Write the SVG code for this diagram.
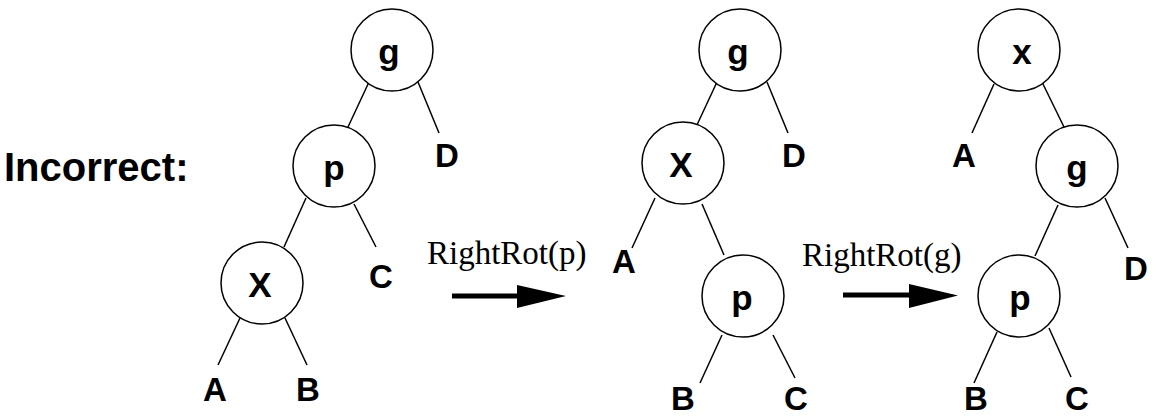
<svg xmlns="http://www.w3.org/2000/svg" width="1163" height="417" viewBox="0 0 1163 417">
<style>
.n{fill:#fff;stroke:#000;stroke-width:1.5}
.e{stroke:#000;stroke-width:1.5;fill:none}
.nl{font-family:"Liberation Sans",Arial,sans-serif;font-weight:bold;font-size:35px;text-anchor:middle;fill:#000}
.lf{font-family:"Liberation Sans",Arial,sans-serif;font-weight:bold;font-size:33px;text-anchor:middle;fill:#000}
.op{font-family:"Liberation Serif","Times New Roman",serif;font-size:33px;fill:#000}
</style>
<rect width="1163" height="417" fill="#fff"/>
<text id="title" x="4" y="181" font-family="Liberation Sans, Arial, sans-serif" font-weight="bold" font-size="40">Incorrect:</text>
<g id="connectors">
<line class="e" x1="369" y1="82" x2="348" y2="127"/>
<line class="e" x1="418" y1="82" x2="439" y2="133"/>
<line class="e" x1="306" y1="198" x2="284" y2="247"/>
<line class="e" x1="354" y1="204" x2="376" y2="247"/>
<line class="e" x1="240" y1="318" x2="218" y2="365"/>
<line class="e" x1="285" y1="318" x2="307" y2="365"/>
<line class="e" x1="717" y1="82" x2="696" y2="127"/>
<line class="e" x1="767" y1="82" x2="788" y2="133"/>
<line class="e" x1="655" y1="198" x2="632" y2="248"/>
<line class="e" x1="702" y1="204" x2="724" y2="255"/>
<line class="e" x1="722" y1="335" x2="700" y2="383"/>
<line class="e" x1="773" y1="335" x2="795" y2="378"/>
<line class="e" x1="994" y1="84" x2="972" y2="133"/>
<line class="e" x1="1042" y1="82" x2="1064" y2="127"/>
<line class="e" x1="1058" y1="205" x2="1035" y2="256"/>
<line class="e" x1="1105" y1="198" x2="1128" y2="248"/>
<line class="e" x1="997" y1="332" x2="974" y2="383"/>
<line class="e" x1="1049" y1="328" x2="1071" y2="377"/>
</g>
<g id="arrow1">
<rect x="452" y="293.5" width="66" height="5" fill="#000"/>
<polygon points="517,285 566,296 517,308" fill="#000"/>
<text class="op" x="427" y="264">RightRot(p)</text>
</g>
<g id="arrow2">
<rect x="843" y="292.5" width="67" height="5" fill="#000"/>
<polygon points="909,284 958,295.5 909,308" fill="#000"/>
<text class="op" x="802" y="266">RightRot(g)</text>
</g>
<g id="t1-g"><circle class="n" cx="392" cy="50" r="41"/><text class="nl" x="389" y="64">g</text></g>
<g id="t1-p"><circle class="n" cx="334" cy="166" r="41"/><text class="nl" x="334" y="180">p</text></g>
<g id="t1-x"><circle class="n" cx="262" cy="283" r="41"/><text class="nl" x="260" y="297">X</text></g>
<g id="t1-D"><text class="lf" x="447" y="167">D</text></g>
<g id="t1-C"><text class="lf" x="381" y="288">C</text></g>
<g id="t1-A"><text class="lf" x="215" y="401">A</text></g>
<g id="t1-B"><text class="lf" x="308" y="401">B</text></g>
<g id="t2-g"><circle class="n" cx="740" cy="50" r="41"/><text class="nl" x="738" y="64">g</text></g>
<g id="t2-x"><circle class="n" cx="683" cy="163" r="41"/><text class="nl" x="681" y="177">X</text></g>
<g id="t2-p"><circle class="n" cx="743" cy="296" r="41"/><text class="nl" x="742" y="310">p</text></g>
<g id="t2-D"><text class="lf" x="794" y="167">D</text></g>
<g id="t2-A"><text class="lf" x="624" y="273">A</text></g>
<g id="t2-B"><text class="lf" x="683" y="410">B</text></g>
<g id="t2-C"><text class="lf" x="796" y="410">C</text></g>
<g id="t3-x"><circle class="n" cx="1019" cy="50" r="41"/><text class="nl" x="1022" y="64">x</text></g>
<g id="t3-g"><circle class="n" cx="1077" cy="166" r="41"/><text class="nl" x="1077" y="180">g</text></g>
<g id="t3-p"><circle class="n" cx="1019" cy="296" r="41"/><text class="nl" x="1020" y="310">p</text></g>
<g id="t3-A"><text class="lf" x="964" y="167">A</text></g>
<g id="t3-D"><text class="lf" x="1136" y="280">D</text></g>
<g id="t3-B"><text class="lf" x="976" y="410">B</text></g>
<g id="t3-C"><text class="lf" x="1077" y="410">C</text></g>
</svg>
